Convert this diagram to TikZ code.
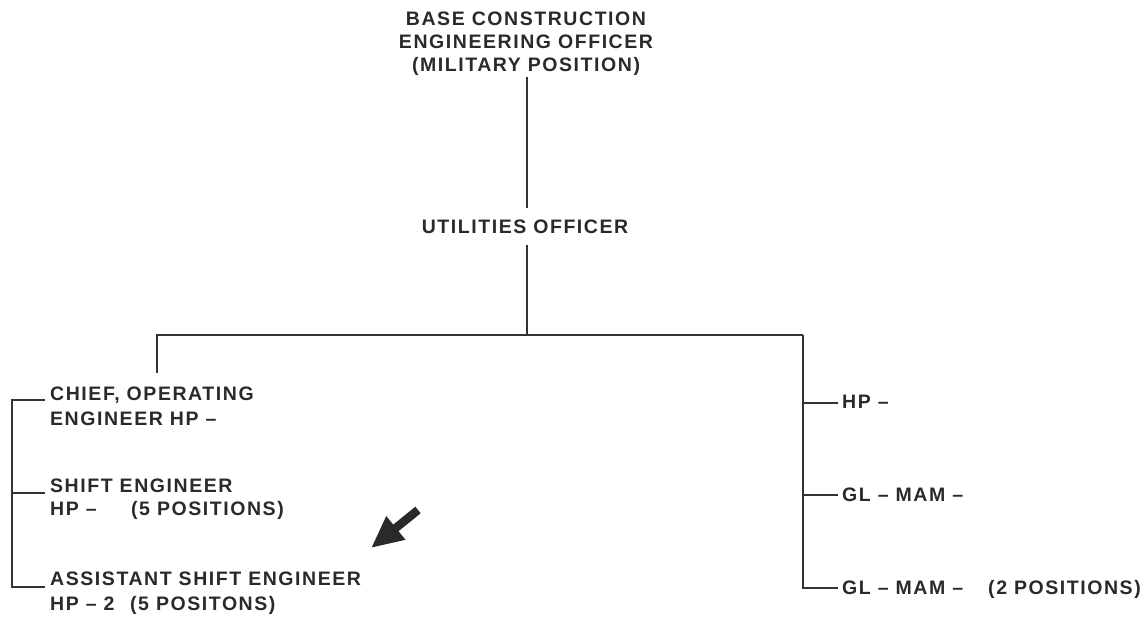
\documentclass[tikz,border=0pt]{standalone}
\usepackage{fontspec}
\setmainfont{Liberation Sans}[LetterSpace=8]
\usetikzlibrary{arrows.meta}
\definecolor{ink}{HTML}{2A2A2A}
\definecolor{rule}{HTML}{333333}
\begin{document}
\begin{tikzpicture}[x=1pt,y=-1pt,
  lbl/.style={inner sep=0pt, text=ink, align=left, font=\fontsize{19.5}{24.5}\selectfont\bfseries},
  ln/.style={line width=2pt, draw=rule}]
\useasboundingbox (0,0) rectangle (1147,616);
% top
\node[lbl, align=center, anchor=north, font=\fontsize{19.5}{23}\selectfont\bfseries] (base) at (526,12)
  {BASE CONSTRUCTION\\ENGINEERING OFFICER\\(MILITARY POSITION)};
\node[lbl, anchor=base] (util) at (525,233) {UTILITIES OFFICER};
\coordinate (t1) at (527,77);
\coordinate (t2) at (527,208);
\coordinate (u1) at (527,245);
\coordinate (j) at (527,335);
\coordinate (hl) at (157,335);
\coordinate (hr) at (803,335);
\coordinate (lv) at (157,373);
\draw[ln] (t1) -- (t2);
\draw[ln] (u1) -- (j);
\draw[ln] (lv) -- (hl) -- (hr);
% left column
\node[lbl, anchor=north west] (chief) at (50,387) {CHIEF, OPERATING\\ENGINEER HP –};
\node[lbl, anchor=north west, font=\fontsize{19.5}{23}\selectfont\bfseries] (shift) at (50,479) {SHIFT ENGINEER\\\makebox[81pt][l]{HP –}(5 POSITIONS)};
\node[lbl, anchor=north west] (asst) at (50,572) {ASSISTANT SHIFT ENGINEER\\\makebox[80pt][l]{HP – 2}(5 POSITONS)};
\draw[ln] ([xshift=-5pt,yshift=-13pt]chief.north west) -- ++(-33,0) |- ([xshift=-5pt,yshift=-15pt]asst.north west);
\draw[ln] ([xshift=-5pt,yshift=-14pt]shift.north west) -- ++(-33,0);
% right column
\node[lbl, anchor=base west] (r1) at (842,408.5) {HP –};
\node[lbl, anchor=base west] (r2) at (842,501) {GL – MAM –};
\node[lbl, anchor=base west] (r3) at (842,594) {\makebox[146pt][l]{GL – MAM –}(2 POSITIONS)};
\draw[ln] (hr) |- ([xshift=-4pt,yshift=6pt]r3.base west);
\draw[ln] ([xshift=-4pt,yshift=6pt]r1.base west) -- ++(-35,0);
\draw[ln] ([xshift=-4pt,yshift=6pt]r2.base west) -- ++(-35,0);
% arrow
\coordinate (arrt) at (418,510);
\coordinate (arrh) at (371,548);
\draw[line width=8.5pt, draw=ink, fill=ink, -{Triangle[length=32pt,width=28pt]}] (arrt) -- (arrh);
\end{tikzpicture}
\end{document}
